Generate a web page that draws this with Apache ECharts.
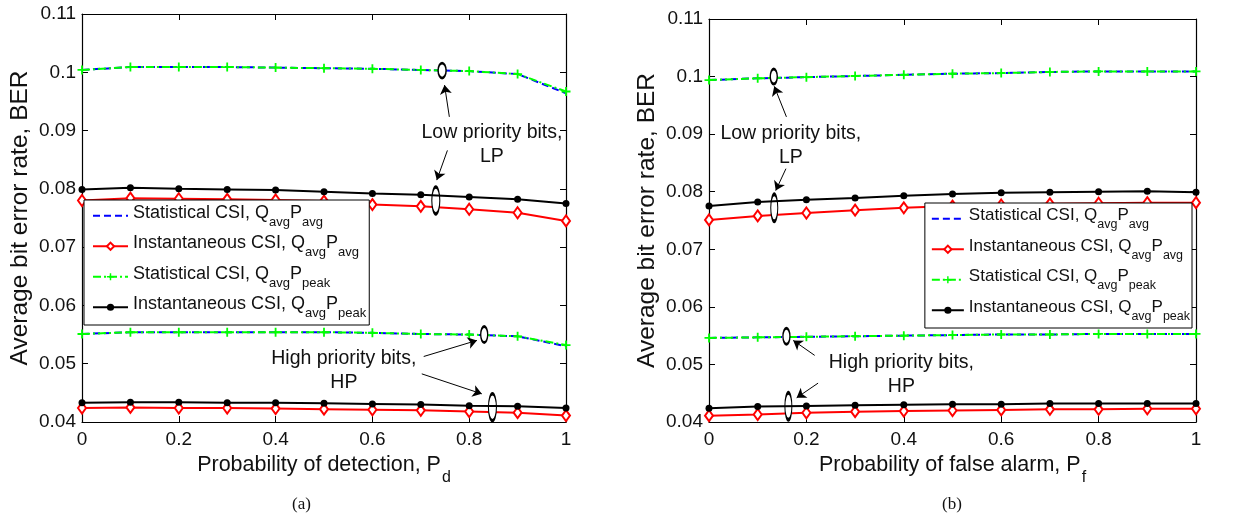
<!DOCTYPE html>
<html>
<head>
<meta charset="utf-8">
<script src="https://cdn.jsdelivr.net/npm/echarts@6/dist/echarts.min.js"></script>
<style>html,body{margin:0;padding:0;background:#fff}#c{width:1238px;height:517px}</style>
</head>
<body>
<div id="c"></div>
<script>
// ---------- data ----------
const xValues = [0, 0.1, 0.2, 0.3, 0.4, 0.5, 0.6, 0.7, 0.8, 0.9, 1];
const yTicks = [0.04, 0.05, 0.06, 0.07, 0.08, 0.09, 0.1, 0.11];
const xTicks = [0, 0.2, 0.4, 0.6, 0.8, 1];

// (a) vs probability of detection
const a_LP_statAvg  = [0.1004,0.1009,0.1009,0.1009,0.1008,0.1007,0.1006,0.1004,0.1002,0.0997,0.0964];
const a_LP_statPeak = [0.1004,0.1009,0.1009,0.1009,0.1008,0.1007,0.1006,0.1004,0.1002,0.0997,0.0967];
const a_LP_instAvg  = [0.0780,0.0784,0.0783,0.0782,0.0781,0.0779,0.0773,0.0770,0.0765,0.0759,0.0745];
const a_LP_instPeak = [0.0799,0.0802,0.0800,0.0799,0.0798,0.0795,0.0792,0.0790,0.0786,0.0782,0.0775];
const a_HP_statAvg  = [0.0551,0.0554,0.0554,0.0554,0.0554,0.0554,0.0553,0.0551,0.0550,0.0547,0.0530];
const a_HP_statPeak = [0.0551,0.0554,0.0554,0.0554,0.0554,0.0554,0.0553,0.0551,0.0550,0.0547,0.0532];
const a_HP_instAvg  = [0.0424,0.0425,0.0424,0.0424,0.0423,0.0422,0.0421,0.0420,0.0418,0.0416,0.0411];
const a_HP_instPeak = [0.0433,0.0434,0.0434,0.0433,0.0433,0.0432,0.0431,0.0430,0.0428,0.0427,0.0424];

// (b) vs probability of false alarm
const b_LP_statAvg  = [0.0994,0.0997,0.0999,0.1001,0.1003,0.1005,0.1006,0.1008,0.1009,0.1009,0.1009];
const b_LP_statPeak = [0.0994,0.0997,0.0999,0.1001,0.1003,0.1005,0.1006,0.1008,0.1009,0.1009,0.1009];
const b_LP_instAvg  = [0.0751,0.0758,0.0763,0.0768,0.0772,0.0775,0.0777,0.0779,0.0780,0.0781,0.0781];
const b_LP_instPeak = [0.0775,0.0782,0.0786,0.0789,0.0793,0.0796,0.0798,0.0799,0.0800,0.0801,0.0799];
const b_HP_statAvg  = [0.0546,0.0547,0.0548,0.0549,0.0550,0.0551,0.0552,0.0552,0.0553,0.0553,0.0553];
const b_HP_statPeak = [0.0546,0.0547,0.0548,0.0549,0.0550,0.0551,0.0552,0.0552,0.0553,0.0553,0.0553];
const b_HP_instAvg  = [0.0411,0.0413,0.0416,0.0418,0.0419,0.0420,0.0421,0.0422,0.0422,0.0423,0.0423];
const b_HP_instPeak = [0.0424,0.0427,0.0428,0.0429,0.0430,0.0431,0.0431,0.0432,0.0432,0.0432,0.0432];

const seriesNames = [
  'Statistical CSI, QavgPavg',
  'Instantaneous CSI, QavgPavg',
  'Statistical CSI, QavgPpeak',
  'Instantaneous CSI, QavgPpeak'
];
const legendRich = {
  'Statistical CSI, QavgPavg': '{m|Statistical CSI, Q}{s|avg}{m|P}{s|avg}',
  'Instantaneous CSI, QavgPavg': '{m|Instantaneous CSI, Q}{s|avg}{m|P}{s|avg}',
  'Statistical CSI, QavgPpeak': '{m|Statistical CSI, Q}{s|avg}{m|P}{s|peak}',
  'Instantaneous CSI, QavgPpeak': '{m|Instantaneous CSI, Q}{s|avg}{m|P}{s|peak}'
};

// annotations (data coordinates)
const annA = {
  ellipses: [[0.744,0.1003,[8,15]],[0.731,0.0780,[8,27]],[0.831,0.0550,[7,16]],[0.848,0.04253,[8,27]]],
  arrows: [[[0.759,0.09235],[0.749,0.0978]],[[0.755,0.0866],[0.733,0.0815]],[[0.706,0.05124],[0.816,0.0540]],[[0.702,0.04826],[0.826,0.04483]]],
  texts: [[0.847,0.08758,'Low priority bits,\nLP'],[0.541,0.04883,'High priority bits,\nHP']]
};
const annB = {
  ellipses: [[0.133,0.1000,[7,15]],[0.134,0.0772,[7,27]],[0.159,0.0549,[7,16]],[0.163,0.04273,[7,27]]],
  arrows: [[[0.159,0.0930],[0.134,0.0983]],[[0.158,0.0840],[0.137,0.0802]],[[0.217,0.05157],[0.173,0.05417]],[[0.224,0.04675],[0.180,0.04421]]],
  texts: [[0.168,0.08795,'Low priority bits,\nLP'],[0.395,0.04821,'High priority bits,\nHP']]
};

// ---------- styles ----------
const FONT = 'Liberation Sans, Arial, sans-serif';
const TXT = '#111';
const plusPath = 'path://M4,0H6V4H10V6H6V10H4V6H0V4H4Z';
const styles = [
  {color:'#0000ff', lineStyle:{type:[7,4], width:2}, symbol:'none', itemStyle:{color:'#0000ff'}},
  {color:'#ff0000', lineStyle:{type:'solid', width:2}, symbol:'emptyDiamond', symbolSize:[8,11], itemStyle:{color:'#ff0000', borderWidth:1.5}},
  {color:'#00ff00', lineStyle:{type:[8,3,2,3], width:2}, symbol:plusPath, symbolSize:9, itemStyle:{color:'#00ff00', borderWidth:0}},
  {color:'#000000', lineStyle:{type:'solid', width:2}, symbol:'circle', symbolSize:7, itemStyle:{color:'#000000', borderWidth:0}}
];

function pairs(vals){ return xValues.map((x,i)=>[x, vals[i]]); }

function makeSeries(idx, vals, gi){
  const s = styles[idx];
  return {
    type:'line', name: seriesNames[idx], xAxisIndex: gi*2, yAxisIndex: gi*2,
    data: pairs(vals), symbol: s.symbol, symbolSize: s.symbolSize, showSymbol: s.symbol !== 'none',
    lineStyle: Object.assign({color:s.color}, s.lineStyle), itemStyle: s.itemStyle,
    color: s.color, animation:false, z: 2 + idx, emphasis:{disabled:true}
  };
}

function annSeries(ann, gi){
  const mp = ann.ellipses.map(e => ({
    coord:[e[0], e[1]], symbol:'circle', symbolSize:e[2],
    itemStyle:{color:'#ffffff', borderColor:'#000', borderWidth:2}, label:{show:false}
  })).concat(ann.texts.map(t => ({
    coord:[t[0], t[1]], symbol:'rect', symbolSize:1, itemStyle:{color:'rgba(0,0,0,0)'},
    label:{show:true, position:'inside', formatter:t[2], fontSize:19.5, lineHeight:24, color:TXT, fontFamily:FONT, align:'center'}
  })));
  const ml = ann.arrows.map(a => [{coord:a[0]}, {coord:a[1]}]);
  return {
    type:'line', name:'ann'+gi, xAxisIndex: gi*2, yAxisIndex: gi*2, data:[], z: 10,
    markPoint:{silent:true, data: mp, animation:false},
    markLine:{silent:true, symbol:['none','arrow'], symbolSize:9, animation:false,
      lineStyle:{color:'#000', width:1, type:'solid'}, label:{show:false}, data: ml}
  };
}

function xAxes(gi, nameRich){
  const common = {type:'value', gridIndex:gi, min:0, max:1, interval:0.2,
    axisLine:{show:true, onZero:false, lineStyle:{color:'#000', width:1.2}},
    axisTick:{show:true, inside:true, length:6, lineStyle:{color:'#000'}},
    splitLine:{show:false}};
  return [
    Object.assign({}, common, {position:'bottom',
      axisLabel:{show:true, fontSize:19, color:TXT, margin:8, fontFamily:FONT},
      name: nameRich, nameLocation:'middle', nameGap:22,
      nameTextStyle:{color:TXT, fontFamily:FONT, rich:{
        m:{fontSize:21.5, color:TXT, fontFamily:FONT, verticalAlign:'top'},
        s:{fontSize:16, color:TXT, fontFamily:FONT, verticalAlign:'top', padding:[16,0,0,1]}
      }}}),
    Object.assign({}, common, {position:'top', axisLabel:{show:false}})
  ];
}
function yAxes(gi){
  const common = {type:'value', gridIndex:gi, min:0.04, max:0.11, interval:0.01,
    axisLine:{show:true, onZero:false, lineStyle:{color:'#000', width:1.2}},
    axisTick:{show:true, inside:true, length:6, lineStyle:{color:'#000'}},
    splitLine:{show:false}};
  return [
    Object.assign({}, common, {position:'left',
      axisLabel:{show:true, fontSize:19, color:TXT, margin:6, fontFamily:FONT,
        formatter: v => String(parseFloat(v.toFixed(2)))},
      name:'Average bit error rate, BER', nameLocation:'middle', nameGap:49,
      nameTextStyle:{fontSize:24.5, color:TXT, fontFamily:FONT}}),
    Object.assign({}, common, {position:'right', axisLabel:{show:false}})
  ];
}

function legendFor(pos, fm, fs, iw, pad){
  return Object.assign({
    orient:'vertical',
    data: seriesNames.map((n,i) => i === 0 ? {name:n, itemStyle:{opacity:0}} : {name:n}),
    itemWidth:iw, itemHeight:9, itemGap:6, padding:pad,
    borderColor:'#000', borderWidth:1, backgroundColor:'#fff', selectedMode:false,
    formatter: n => legendRich[n],
    textStyle:{color:TXT, fontFamily:FONT, rich:{
      m:{fontSize:fm, color:TXT, fontFamily:FONT, verticalAlign:'top', padding:[1,0,0,0]},
      s:{fontSize:fs, color:TXT, fontFamily:FONT, verticalAlign:'top', padding:[12.5,0,0,0]}
    }}
  }, pos);
}

const option = {
  backgroundColor:'#fff',
  animation:false,
  grid:[
    {left:82, top:14, width:484, height:408, containLabel:false},
    {left:709, top:19, width:487, height:403, containLabel:false}
  ],
  xAxis: xAxes(0, '{m|Probability of detection, P}{s|d}').concat(xAxes(1, '{m|Probability of false alarm, P}{s|f}')),
  yAxis: yAxes(0).concat(yAxes(1)),
  legend:[
    legendFor({left:84, top:200}, 18, 13, 35, [4,3,5,8]),
    legendFor({right:46, top:203}, 17, 12.5, 32, [4,2,5,6])
  ],
  series:[
    makeSeries(0, a_LP_statAvg, 0), makeSeries(0, a_HP_statAvg, 0),
    makeSeries(1, a_LP_instAvg, 0), makeSeries(1, a_HP_instAvg, 0),
    makeSeries(2, a_LP_statPeak, 0), makeSeries(2, a_HP_statPeak, 0),
    makeSeries(3, a_LP_instPeak, 0), makeSeries(3, a_HP_instPeak, 0),
    makeSeries(0, b_LP_statAvg, 1), makeSeries(0, b_HP_statAvg, 1),
    makeSeries(1, b_LP_instAvg, 1), makeSeries(1, b_HP_instAvg, 1),
    makeSeries(2, b_LP_statPeak, 1), makeSeries(2, b_HP_statPeak, 1),
    makeSeries(3, b_LP_instPeak, 1), makeSeries(3, b_HP_instPeak, 1),
    annSeries(annA, 0), annSeries(annB, 1)
  ],
  graphic:[
    {type:'text', left:292, top:496, style:{text:'(a)', font:'17px "Liberation Serif", serif', fill:TXT}},
    {type:'text', left:942, top:496, style:{text:'(b)', font:'17px "Liberation Serif", serif', fill:TXT}}
  ]
};

const chart = echarts.init(document.getElementById('c'), null, {renderer:'canvas'});
chart.setOption(option);
</script>
</body>
</html>
